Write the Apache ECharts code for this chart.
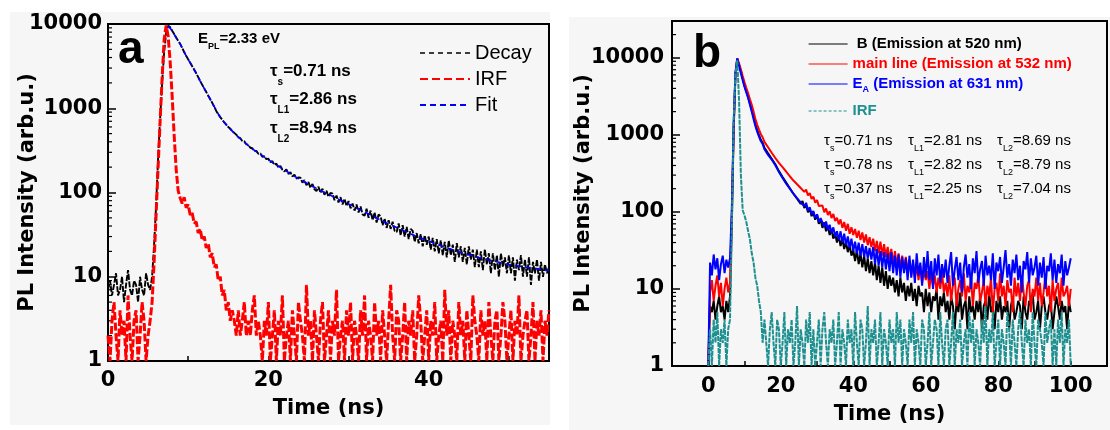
<!DOCTYPE html>
<html><head><meta charset="utf-8">
<script src="https://cdn.jsdelivr.net/npm/echarts@6/dist/echarts.min.js"></script>
<style>html,body{margin:0;padding:0;background:#fff}#c{width:1110px;height:430px}</style>
</head><body><div id="c"></div>
<script>
// ---------- Panel (a) : sampled every 0.25 ns from 0 to 55 ns ----------
const stepA = 0.25;
const decayA = [7,9,6,8,11,6,7,10,5,8,12,7,6,9,8,5,10,7,6,11,8,7,
10,24,70,260,750,2000,4600,7800,9500,9200,8300,7600,6900,6300,5800,5200,4650,4200,3800,3480,3150,2870,2600,2340,2100,1900,1720,1560,1410,1280,1160,1040,930,850,785,730,680,640,600,572,538,510,
486,452,441,409,404,374,366,340,
335,311,312,288,290,266,268,249,
252,229,236,212,220,198,207,186,
178,188,166,174,155,163,146,151,
150,131,140,122,133,114,126,109,
104,117,99,111,94,105,89,99,
97,81,92,76,88,72,84,69,
79,65,74,61,72,58,68,55,
53,64,50,61,47,58,44,55,
52,41,49,38,47,37,45,35,
34,43,31,41,30,39,28,37,
35,26,33,25,32,23,31,24,
30,21,29,20,28,19,27,18,
26,17,27,18,24,15,25,17,
23,15,22,14,23,16,21,13,
21,13,20,12,21,14,19,11,
19,12,18,10,19,13,17,11,
18,11,17,9,16,12,18,10,
16,10,17,8,15,11,16,9,
15,10,14,11,13];
const irfA = [2,1,3,5,2,1,4,2,3,1,6,2,1,3,4,1,2,5,3,1,2,
3,5,15,55,200,700,2300,6500,9600,7200,3600,1400,480,190,105,
86,74,88,66,72,54,57,43,45,33,37,27,30,22,25,17,19,13,14,9,10,6,7,4,5,3,4,
3,2,4,2,3,5,2,3,2,4,6,2,3,2,
1,3,2,5,1,2,4,1,3,2,6,1,2,3,1,4,2,1,5,3,
2,1,8,2,3,1,4,2,1,3,5,1,2,4,1,3,2,7,1,2,
3,1,4,2,5,1,3,2,1,4,2,6,1,3,2,1,5,2,3,1,
4,2,1,3,8,2,1,4,3,1,2,5,1,3,2,4,1,2,6,3,
1,2,4,1,3,2,5,1,2,3,1,7,2,4,1,3,2,1,5,2,
3,1,4,2,1,6,3,2,1,4,2,3,1,5,2,1,3,4,1,2,
5,3,1,2,4,1,3,2,6,1,2,3,4,1,2,5,1,3,2,4,
1,3,2,4];
const fitTimesA = [7.5,8,8.5,9,9.5,10,10.5,11,11.5,12,13,14,15,16,17,18,19,20,22,24,26,28,30,32,34,36,38,40,42,44,46,48,50,52,54,55];
const fitA = [9500,8300,6900,5800,4650,3800,3150,2600,2100,1720,1160,785,600,480,395,330,285,245,185,142,112,90,73,59,47,38.5,31.5,26.5,22.5,19.5,17.2,15.4,14,13,12.2,11.9];

// ---------- Panel (b) : sampled every 0.5 ns from 0 to 100 ns ----------
const stepB = 0.5;
const bB = [1,
6,5,7,4,6,8,5,6,4,7,5,
8,70,1100,6000,9700,8100,6700,5400,4300,3650,3100,2550,2100,1700,1380,1150,990,860,
790,680,655,575,560,490,475,415,400,338,328,
284,289,240,247,203,211,172,178,
148,156,127,138,112,
124,99,111,88,99,79,93,70,80,
62,73,56,66,50,60,45,53,40,
49,36,45,33,41,30,37,27,32,
23,32,21,29,19,27,17,25,16,23,
15,22,13,20,12,19,11,17,10,15,
11,14,9,13,8,14,9,12,7,11,
8,12,7,10,6,11,8,9,5,10,
6,9,5,8,7,10,4,8,6,9,
5,7,4,8,6,3,7,5,9,4,
6,7,3,8,5,6,4,7,5,8,
3,6,7,4,9,5,6,3,7,5,
8,4,6,5,7,3,6,8,4,5,
7,6,3,8,5,4,7,6,9,4,
5,7,3,6,8,5,4,6,7,3,
5,8,6,4,7,5,6,3,7,5];
const mainB = [1,
9,13,7,11,15,8,12,6,10,14,9,
12,90,1200,6200,9800,8400,7100,5800,4800,4050,3450,2900,2450,2000,1600,1350,1170,1020,
930,810,790,690,670,585,575,500,492,432,428,
381,380,333,336,290,296,255,262,
228,233,204,210,182,
195,163,176,147,158,131,143,119,126,
121,99,111,91,102,83,94,76,84,
69,80,62,74,57,70,52,63,50,
60,46,57,43,54,40,51,37,47,35,
45,31,42,29,41,27,38,26,35,24,
33,21,31,20,29,19,27,18,26,17,
24,15,22,14,21,13,20,12,18,13,
17,10,16,11,15,9,14,10,16,9,
12,8,15,7,11,14,6,10,13,8,
16,7,11,9,14,6,12,10,15,7,
9,13,6,11,8,14,5,10,12,7,
16,8,11,6,13,9,10,5,14,8,
12,7,15,9,6,11,13,5,10,8,
14,7,12,6,9,15,8,11,5,13,
7,10,12,6,14,8,9,11,6,10];
const eaB = [1,
22,15,28,18,25,13,21,27,16,24,19,
25,110,1300,6400,9800,7900,6300,5100,4200,3550,3000,2450,2000,1600,1300,1100,950,830,
760,650,635,550,548,478,470,402,389,330,318,
275,280,232,240,200,206,172,178,
151,158,133,140,118,
131,104,115,93,103,83,93,74,83,
79,64,75,58,68,53,63,48,56,
43,56,40,52,37,48,34,45,31,
41,29,40,27,38,26,36,25,34,24,
35,21,33,20,31,19,30,18,29,17,
30,16,27,15,28,14,26,16,25,13,
27,14,24,12,29,15,22,11,26,14,
31,13,23,10,25,15,28,12,21,14,
24,12,20,30,11,18,26,13,22,9,
19,28,14,21,10,25,16,31,12,18,
23,11,27,15,20,13,29,10,22,17,
26,12,19,32,14,21,11,24,16,28,
13,20,9,23,18,30,12,25,15,19,
27,11,22,14,26,10,20,17,29,13,
24,12,21,16,28,11,23,15,19,25];
const irfB = [1,
3,1,4,2,5,1,3,2,4,1,3,
4,60,1500,6000,9300,2800,300,105,90,74,56,44,29,22,14,11,7,5,
2,
4,2,1,3,5,2,1,4,3,1,2,5,1,3,2,4,1,2,6,1,
3,2,1,4,2,5,1,3,1,2,4,1,3,5,2,1,3,2,4,1,
2,5,1,3,2,1,4,2,3,1,5,2,1,4,3,1,2,6,1,3,
2,4,1,2,5,1,3,2,1,4,2,3,1,5,2,4,1,3,2,1,
4,2,5,1,3,2,1,4,3,1,2,5,1,2,4,3,1,5,2,1,
3,4,1,2,5,1,3,2,4,1,2,3,1,5,2,4,1,3,2,1,
4,2,6,1,3,2,5,1,2,4,1,3,2,1,5,3,1,4,2,1,
3,5,2,1,4,2,3,1,5,2,1,4,3,2,1,5,2,3,4,1,
3,1,4,2,5,1,3,2,4,1];

// ---------- ticks and labels ----------
const minorTicksA = [2,3,4,5,6,7,8,9,20,30,40,50,60,70,80,90,200,300,400,500,600,700,800,900,2000,3000,4000,5000,6000,7000,8000,9000];
const minorTicksB = minorTicksA.concat([20000,30000]);
const majorYLabels = [1,10,100,1000,10000];
const xLabelsA = [0,20,40];
const xLabelsB = [0,20,40,60,80,100];

const pairs = (vals, step) => vals.map((v, i) => [i * step, v]);
const zip = (ts, vs) => ts.map((t, i) => [t, vs[i]]);

const AX = '"DejaVu Sans", sans-serif';
const AR = '"Liberation Sans", Arial, sans-serif';

function yAxisCfg(gi, max, margin, gap) {
  return {
    type: 'log', logBase: 10, gridIndex: gi, min: 1, max: max,
    name: 'PL Intensity (arb.u.)', nameLocation: 'middle', nameGap: gap, nameRotate: 90, nameMoveOverlap: false,
    nameTextStyle: {fontFamily: AX, fontWeight: 'bold', fontSize: 21, color: '#000'},
    axisLine: {show: true, onZero: false, lineStyle: {color: '#000', width: 2}},
    axisTick: {show: true, inside: true, length: 8, lineStyle: {color: '#000', width: 1.5}},
    minorTick: {show: false}, splitLine: {show: false},
    axisLabel: {margin: margin, fontFamily: AX, fontWeight: 'bold', fontSize: 21, color: '#000',
      showMinLabel: true, showMaxLabel: true, hideOverlap: false,
      formatter: v => { const r = Math.round(v); return majorYLabels.indexOf(r) >= 0 ? String(r) : ''; }}
  };
}
function xAxisCfg(gi, min, max, labels, margin, gap) {
  return {
    type: 'value', gridIndex: gi, min: min, max: max, interval: 10,
    name: 'Time (ns)', nameLocation: 'middle', nameGap: gap, nameMoveOverlap: false,
    nameTextStyle: {fontFamily: AX, fontWeight: 'bold', fontSize: 21, color: '#000'},
    axisLine: {show: true, onZero: false, lineStyle: {color: '#000', width: 2}},
    axisTick: {show: true, inside: true, length: 5, lineStyle: {color: '#000', width: 1.5}},
    splitLine: {show: false},
    axisLabel: {margin: margin, fontFamily: AX, fontWeight: 'bold', fontSize: 21, color: '#000',
      showMinLabel: true, showMaxLabel: true, hideOverlap: false,
      formatter: v => labels.indexOf(Math.round(v)) >= 0 && Math.abs(v - Math.round(v)) < 1e-6 ? String(Math.round(v)) : ''}
  };
}
function minorTickSeries(xi, yi, xMin, vals) {
  return {
    type: 'custom', xAxisIndex: xi, yAxisIndex: yi, silent: true, z: 5,
    data: vals.map(v => [xMin, v]), encode: {x: 0, y: 1},
    renderItem: (params, api) => {
      const p = api.coord([api.value(0), api.value(1)]);
      return {type: 'line', shape: {x1: p[0], y1: p[1], x2: p[0] + 4, y2: p[1]},
        style: {stroke: '#000', lineWidth: 1.2}};
    }
  };
}
function lineSeries(name, xi, yi, data, color, width, dash, z) {
  return {
    name: name, type: 'line', xAxisIndex: xi, yAxisIndex: yi, data: data,
    symbol: 'none', showSymbol: false, silent: true, animation: false, z: z,
    lineStyle: {color: color, width: width, type: dash || 'solid'},
    itemStyle: {color: color}
  };
}

const TEAL = '#1f9090';
const chart = echarts.init(document.getElementById('c'), null, {renderer: 'canvas'});

const subRich = (fs, lh, sfs, color, weight) => ({
  m: {fontFamily: AR, fontSize: fs, fontWeight: weight, lineHeight: lh, verticalAlign: 'top', color: color},
  s: {fontFamily: AR, fontSize: sfs, fontWeight: weight, lineHeight: sfs, verticalAlign: 'bottom', color: color}
});
function richText(x, y, str, rich) {
  return {type: 'text', x: x, y: y, z: 50, silent: true,
    style: {text: str, rich: rich, align: 'left', verticalAlign: 'middle'}};
}
const tauA = subRich(17, 24, 10, '#000', 'bold');
const tauBk = subRich(15, 20, 9, '#1a1a1a', 'normal');
const tauBr = subRich(15, 20, 9, '#ff1a1a', 'normal');
const tauBb = subRich(15, 20, 9, '#1a1aff', 'normal');
const hideSym = {opacity: 0, color: 'transparent', borderWidth: 0};

chart.setOption({
  animation: false,
  backgroundColor: '#ffffff',
  grid: [
    {left: 108, top: 24, width: 441, height: 337, show: true, borderColor: '#000', borderWidth: 2, backgroundColor: '#f6f6f6', containLabel: false},
    {left: 672, top: 21, width: 448, height: 345, show: true, borderColor: '#000', borderWidth: 2, backgroundColor: '#f6f6f6', containLabel: false}
  ],
  xAxis: [xAxisCfg(0, 0, 55, xLabelsA, 9, 37), xAxisCfg(1, -10, 110, xLabelsB, 10, 38)],
  yAxis: [yAxisCfg(0, 10000, 6, 70), yAxisCfg(1, 30000, 8, 78)],
  legend: [
    {left: 419, top: 40, padding: 0, orient: 'vertical', itemWidth: 50, itemHeight: 14, itemGap: 0, selectedMode: false,
     itemStyle: hideSym,
     data: [{name: 'Decay', lineStyle: {type: [5, 4], width: 1.4}}, {name: 'IRF', lineStyle: {type: [8, 4]}}, {name: 'Fit'}],
     textStyle: {fontFamily: AR, fontSize: 20, color: '#000', lineHeight: 26}},
    {left: 808, top: 34, padding: 0, orient: 'vertical', itemWidth: 39, itemHeight: 12, itemGap: 0, selectedMode: false,
     itemStyle: hideSym,
     data: [{name: 'B', textStyle: {color: '#000'}, lineStyle: {width: 1.2}}, {name: 'main', textStyle: {color: '#ff0000'}, lineStyle: {width: 1.2}}, {name: 'EA', textStyle: {color: '#0000ff'}, lineStyle: {width: 1.2}}],
     formatter: n => n === 'B' ? ' B (Emission at 520 nm)' : n === 'main' ? 'main line (Emission at 532 nm)' : '{m|E}{s|A}{m| (Emission at 631 nm)}',
     textStyle: {fontFamily: AR, fontSize: 15, fontWeight: 'bold', lineHeight: 20,
       rich: {m: {fontFamily: AR, fontSize: 15, fontWeight: 'bold', color: '#0000ff', lineHeight: 20, verticalAlign: 'middle'},
              s: {fontFamily: AR, fontSize: 9, fontWeight: 'bold', color: '#0000ff', lineHeight: 9, verticalAlign: 'bottom'}}}},
    {left: 808, top: 101, padding: 0, orient: 'vertical', itemWidth: 39, itemHeight: 12, itemGap: 0, selectedMode: false,
     itemStyle: hideSym,
     data: [{name: 'IRF ', textStyle: {color: TEAL}, lineStyle: {width: 1.2, type: [3, 2]}}],
     textStyle: {fontFamily: AR, fontSize: 15, fontWeight: 'bold', lineHeight: 20}}
  ],
  graphic: [
    {type: 'rect', z: -100, silent: true, shape: {x: 10, y: 12, width: 540, height: 413}, style: {fill: '#f6f6f6'}},
    {type: 'rect', z: -100, silent: true, shape: {x: 569, y: 17, width: 541, height: 413}, style: {fill: '#f6f6f6'}},
    {type: 'text', x: 118, y: 50, z: 50, silent: true, style: {text: 'a', font: 'bold 46px ' + AR, fill: '#000', verticalAlign: 'middle'}},
    {type: 'text', x: 693, y: 54, z: 50, silent: true, style: {text: 'b', font: 'bold 46px ' + AR, fill: '#000', verticalAlign: 'middle'}},
    richText(198, 41, '{m|E}{s|PL}{m|=2.33 eV}', subRich(15, 20, 9, '#000', 'bold')),
    richText(270, 75, '{m|τ}{s|s}{m|=0.71 ns}', tauA),
    richText(270, 103, '{m|τ}{s|L1}{m|=2.86 ns}', tauA),
    richText(270, 132, '{m|τ}{s|L2}{m|=8.94 ns}', tauA),
    richText(824, 143, '{m|τ}{s|s}{m|=0.71 ns}', tauBk),
    richText(908, 143, '{m|τ}{s|L1}{m|=2.81 ns}', tauBk),
    richText(997, 143, '{m|τ}{s|L2}{m|=8.69 ns}', tauBk),
    richText(824, 167, '{m|τ}{s|s}{m|=0.78 ns}', tauBr),
    richText(908, 167, '{m|τ}{s|L1}{m|=2.82 ns}', tauBr),
    richText(997, 167, '{m|τ}{s|L2}{m|=8.79 ns}', tauBr),
    richText(824, 191, '{m|τ}{s|s}{m|=0.37 ns}', tauBb),
    richText(908, 191, '{m|τ}{s|L1}{m|=2.25 ns}', tauBb),
    richText(997, 191, '{m|τ}{s|L2}{m|=7.04 ns}', tauBb)
  ],
  series: [
    lineSeries('Decay', 0, 0, pairs(decayA, stepA), '#000000', 1.9, [6, 1.5], 10),
    lineSeries('IRF', 0, 0, pairs(irfA, stepA), '#ff0000', 3, [8, 2.5], 11),
    Object.assign(lineSeries('Fit', 0, 0, zip(fitTimesA, fitA), '#0000ff', 1.6, [6, 4], 12), {smooth: 0.3}),
    lineSeries('B', 1, 1, pairs(bB, stepB), '#000000', 2, 'solid', 10),
    lineSeries('main', 1, 1, pairs(mainB, stepB), '#ff0000', 2, 'solid', 11),
    lineSeries('EA', 1, 1, pairs(eaB, stepB), '#0000ff', 2, 'solid', 12),
    lineSeries('IRF ', 1, 1, pairs(irfB, stepB), TEAL, 2, [5, 1], 13),
    minorTickSeries(0, 0, 0, minorTicksA),
    minorTickSeries(1, 1, -10, minorTicksB)
  ]
});
</script></body></html>
